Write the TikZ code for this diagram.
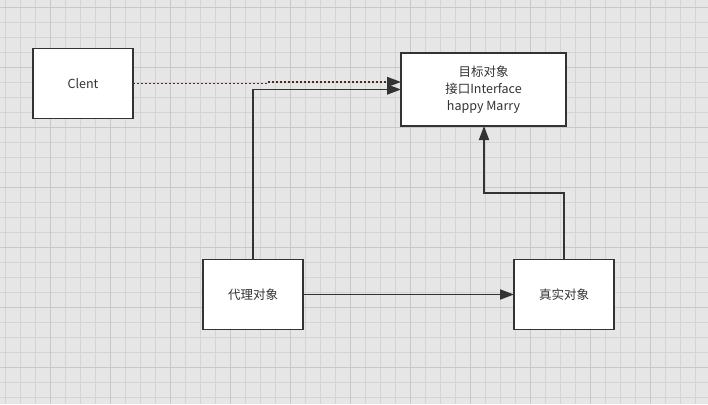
\documentclass[tikz,border=0pt]{standalone}
\usepackage{fontspec}
\newfontfamily\cjk{Noto Sans CJK SC}
\usepackage{tikz}
\usetikzlibrary{positioning,arrows.meta,calc}

\definecolor{paper}{RGB}{230,230,230}
\definecolor{minorgrid}{RGB}{212,212,212}
\definecolor{majorgrid}{RGB}{200,200,200}
\definecolor{edge}{RGB}{51,51,51}
\definecolor{dotline}{RGB}{80,40,40}

\begin{document}
\begin{tikzpicture}[x=1pt,y=-1pt,
  box/.style={draw=edge, line width=1.8pt, fill=white, minimum width=100pt, minimum height=70pt, inner sep=0pt, outer sep=0pt, font=\cjk\fontsize{12.5}{17}\selectfont, text=edge, align=center},
  link/.style={draw=edge, line width=1.8pt, -{Triangle[length=14pt,width=10pt]}},
  dotlink/.style={draw=dotline, line width=1.8pt, dash pattern=on 2pt off 2pt, -{Triangle[length=14pt,width=10pt,color=edge]}}]
\useasboundingbox (0,0) rectangle (708,404);
\fill[paper] (0,0) rectangle (708,404);
% grid
\foreach \x in {5,20,...,708} \draw[minorgrid, line width=0.8pt] (\x,0) -- (\x,404);
\foreach \y in {7,22,...,404} \draw[minorgrid, line width=0.8pt] (0,\y) -- (708,\y);
\foreach \x in {50,110,...,708} \draw[majorgrid, line width=0.9pt] (\x,0) -- (\x,404);
\foreach \y in {7,67,...,404} \draw[majorgrid, line width=0.9pt] (0,\y) -- (708,\y);
% boxes
\node[box] (clent) at (83,83.5) {Clent};
\node[box, minimum width=165pt, minimum height=73pt] (target) at (483.5,89.5) {目标对象\\接口Interface\\happy Marry};
\node[box] (proxy) at (253,294.5) {代理对象};
\node[box] (real) at (564,294.5) {真实对象};
% connectors
\coordinate (jog) at (266,82);
\coordinate (turn) at (484,193);
\draw[dotlink] (clent.east) -- (jog |- clent.east) -- (jog) -- (target.west |- jog);
\draw[link] (proxy.north) |- (target.west);
\draw[link] (proxy.east) -- (real.west);
\draw[link] (real.north) |- (turn) -- (target.south -| turn);
\end{tikzpicture}
\end{document}
